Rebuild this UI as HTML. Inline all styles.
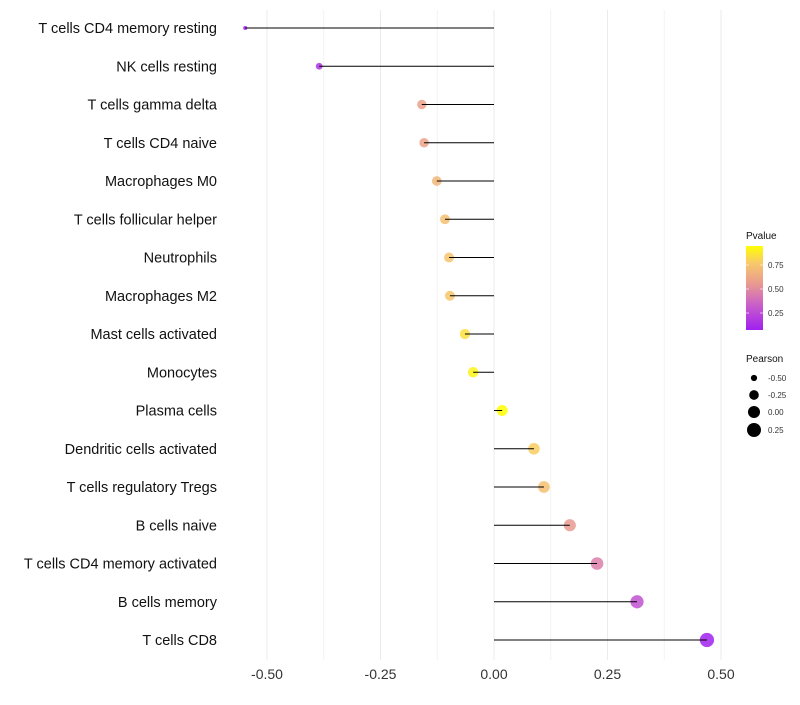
<!DOCTYPE html>
<html><head><meta charset="utf-8"><style>
body{margin:0;background:#fff;font-family:"Liberation Sans",sans-serif}
</style></head><body>
<svg id="c" width="800" height="700" xmlns="http://www.w3.org/2000/svg">
<defs><linearGradient id="pg" x1="0" y1="1" x2="0" y2="0">
<stop offset="0" stop-color="#a020f0"/><stop offset="0.3" stop-color="#c95ec9"/><stop offset="0.55" stop-color="#e99a90"/><stop offset="0.8" stop-color="#f8c96a"/><stop offset="1" stop-color="#ffff00"/>
</linearGradient></defs>
</svg>
<script>
const categories=["T cells CD4 memory resting","NK cells resting","T cells gamma delta","T cells CD4 naive","Macrophages M0","T cells follicular helper","Neutrophils","Macrophages M2","Mast cells activated","Monocytes","Plasma cells","Dendritic cells activated","T cells regulatory  Tregs ","B cells naive","T cells CD4 memory activated","B cells memory","T cells CD8"];
const pearson=[-0.548,-0.385,-0.159,-0.154,-0.126,-0.108,-0.099,-0.097,-0.064,-0.046,0.018,0.088,0.110,0.167,0.227,0.315,0.469];
const pvalue=[0.03,0.15,0.58,0.59,0.68,0.72,0.74,0.75,0.84,0.90,0.96,0.78,0.72,0.55,0.45,0.28,0.08];
const xticks=[-0.5,-0.25,0,0.25,0.5];
const xtickLabels=["-0.50","-0.25","0.00","0.25","0.50"];
const svg=document.getElementById('c');const NS="http://www.w3.org/2000/svg";
const X=v=>494+v*454;
const Y=i=>28+i*38.25;
const R=v=>Math.sqrt(4+47*(v+0.55)/1.02);
const stops=[[0,[160,32,240]],[0.3,[201,94,201]],[0.55,[233,154,144]],[0.8,[248,201,106]],[1,[255,255,0]]];
function col(p){const t=Math.max(0,Math.min(1,(p-0.07)/0.87));
 for(let k=0;k<stops.length-1;k++){const [a,ca]=stops[k],[b,cb]=stops[k+1];
  if(t<=b){const u=(t-a)/(b-a);return `rgb(${ca.map((x,j)=>Math.round(x+(cb[j]-x)*u)).join(',')})`;}}
 return 'rgb(255,255,0)';}
function mk(tag,at,parent){const e=document.createElementNS(NS,tag);for(const k in at)e.setAttribute(k,at[k]);(parent||svg).appendChild(e);return e;}
xticks.forEach((t,i)=>{
 const g=mk('line',{x1:X(t),x2:X(t),y1:10,y2:660,stroke:'#ebebeb','stroke-width':1});
 
 
 if(i<xticks.length-1){const g2=mk('line',{x1:X((t+xticks[i+1])/2),x2:X((t+xticks[i+1])/2),y1:10,y2:660,stroke:'#f2f2f2','stroke-width':1});
 
 }
 const tx=mk('text',{x:X(t),y:679,'text-anchor':'middle','font-size':14,fill:'#333'});tx.textContent=xtickLabels[i];
 
 
});
categories.forEach((c,i)=>{
 const y=Y(i);
 const l=mk('text',{x:217,y:y+5,'text-anchor':'end','font-size':14.5,fill:'#111'});l.textContent=c;
 
 
 const p=mk('circle',{cx:X(pearson[i]),cy:y,r:R(pearson[i]),fill:col(pvalue[i]),'fill-opacity':0.85});
 
 
 const s=mk('line',{x1:X(0),x2:X(pearson[i]),y1:y,y2:y,stroke:'#000','stroke-width':1});
 
 
});
// legends
const lt=mk('text',{x:746,y:239,'font-size':10,fill:'#111'});lt.textContent='Pvalue';


const cb=mk('rect',{x:746,y:246,width:17,height:84,fill:'url(#pg)'});


[[0.75,268],[0.50,292],[0.25,316]].forEach(([v,y])=>{
 mk('line',{x1:746,x2:749,y1:y-3,y2:y-3,stroke:'#fff','stroke-opacity':0.6});
 mk('line',{x1:760,x2:763,y1:y-3,y2:y-3,stroke:'#fff','stroke-opacity':0.6});
 const t=mk('text',{x:768,y:y,'font-size':8,fill:'#333'});t.textContent=v.toFixed(2);
 
 
});
const st=mk('text',{x:746,y:362,'font-size':10,fill:'#111'});st.textContent='Pearson';


[[-0.5,378],[-0.25,395],[0,412],[0.25,430]].forEach(([v,y])=>{
 const c=mk('circle',{cx:754,cy:y,r:R(v)+0.6,fill:'#000'});
 
 
 const t=mk('text',{x:768,y:y+3,'font-size':8,fill:'#333'});t.textContent=v.toFixed(2);
 
 
});
</script>
</body></html>
